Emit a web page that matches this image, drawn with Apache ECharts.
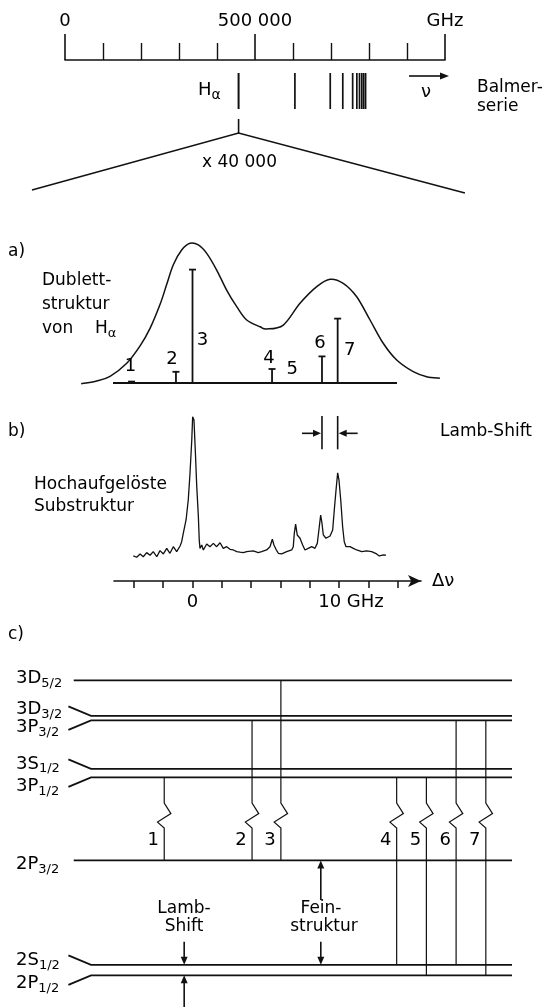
<!DOCTYPE html>
<html>
<head>
<meta charset="utf-8">
<title>Balmer H-alpha Feinstruktur</title>
<script src="https://cdn.jsdelivr.net/npm/echarts@6/dist/echarts.min.js"></script>
<style>
html,body{margin:0;padding:0;background:#fff;}
#chart{width:550px;height:1007px;}
</style>
</head>
<body>
<div id="chart"></div>
<script>
// ================= DATA =================
// top: Balmer series on a 0..1 000 000 GHz scale
const scaleTicksGHz = [0, 500000, 1000000];
const scaleTickLabels = ['0', '500 000', 'GHz'];
const balmerGHz = [456800, 605000, 698000, 731000, 757000, 768000, 775000, 781000, 786000, 791000];
const zoomWindowGHz = [-10.96, 18.6];          // expanded H-alpha window (GHz offset)

// a) Doppler-broadened doublet + fine-structure components
const dopplerGHz = [-7.6, -6.6, -5.63, -4.49, -3.58, -2.90, -2.22, -1.76, -1.31, -0.74, -0.17, 0.40, 0.97, 1.65, 2.33, 3.02, 3.70, 4.61, 5.06, 6.20, 7.34, 8.48, 9.39, 10.29, 11.21, 12.12, 13.02, 13.94, 15.07, 15.99, 16.89];
const dopplerSignal = [-0.5, 1.2, 4.8, 14.1, 26.5, 39.0, 56.0, 70.5, 84.5, 95.0, 99.8, 98.6, 92.6, 80.7, 66.4, 54.5, 45.0, 40.2, 38.6, 41.4, 56.9, 68.8, 74.1, 71.2, 61.6, 45.0, 28.4, 16.4, 8.1, 4.5, 3.4];
const componentLabels = ['1', '2', '3', '4', '5', '6', '7'];
const componentGHz = [-4.16, -1.13, 0.0, 5.43, 6.80, 8.84, 9.91];
const componentIntensity = [1.0, 8, 81, 10, 0.4, 19, 46];
const doubletBaseGHz = [-5.63, 13.96];

// b) high-resolution spectrum
const spectrumGHz = [-4.04, -3.81, -3.58, -3.36, -3.13, -2.90, -2.68, -2.44, -2.22, -1.99, -1.76, -1.54, -1.31, -1.08, -0.85, -0.74, -0.63, -0.44, -0.29, -0.17, -0.05, 0.01, 0.10, 0.19, 0.29, 0.40, 0.46, 0.51, 0.63, 0.74, 0.97, 1.19, 1.42, 1.65, 1.88, 2.10, 2.33, 2.56, 2.79, 3.02, 3.24, 3.47, 3.70, 4.15, 4.49, 4.72, 5.06, 5.29, 5.45, 5.56, 5.70, 5.86, 6.09, 6.43, 6.77, 6.88, 6.95, 7.04, 7.15, 7.34, 7.52, 7.68, 7.90, 8.14, 8.36, 8.52, 8.63, 8.75, 8.84, 8.93, 9.11, 9.39, 9.57, 9.68, 9.80, 9.91, 10.00, 10.12, 10.25, 10.36, 10.48, 10.75, 10.98, 11.21, 11.55, 11.89, 12.23, 12.57, 12.75, 13.05, 13.20];
const spectrumSignal = [15.2, 14.4, 16.4, 14.7, 17.2, 15.6, 17.8, 14.7, 18.4, 16.4, 19.8, 16.8, 20.8, 17.8, 21.2, 23.8, 28.9, 37.0, 49.1, 65.3, 85.5, 99.6, 97.6, 79.4, 57.2, 39.0, 24.8, 19.8, 21.8, 18.8, 22.4, 20.8, 22.8, 20.8, 23.2, 19.8, 20.8, 19.2, 18.8, 17.8, 17.5, 17.2, 17.8, 18.2, 17.2, 17.8, 18.8, 20.8, 25.3, 21.8, 19.2, 16.8, 16.4, 17.8, 18.8, 20.8, 28.9, 34.5, 27.9, 25.9, 21.8, 18.8, 19.8, 20.8, 19.8, 22.8, 30.9, 40.0, 35.0, 27.9, 25.9, 27.3, 30.9, 43.0, 55.2, 65.6, 61.2, 49.1, 32.9, 23.8, 20.8, 20.8, 19.8, 18.8, 17.8, 18.2, 17.8, 16.4, 15.2, 15.8, 15.6];
const deltaTicksGHz = [-4, -2, 0, 2, 4, 6, 8, 10, 12, 14];
const deltaLabelsGHz = [0, 10];
const lambShiftGHz = [8.84, 9.91];

// c) term scheme (schematic energies)
const levelNames = ['3D5/2', '3D3/2', '3P3/2', '3S1/2', '3P1/2', '2P3/2', '2S1/2', '2P1/2'];
const levelEnergy = [98.3, 86.5, 85.0, 68.8, 66.0, 38.3, 3.5, 0];
const transitionLabels = ['1', '2', '3', '4', '5', '6', '7'];
const transitionUpper = ['3P1/2', '3P3/2', '3D5/2', '3P1/2', '3P1/2', '3P3/2', '3P3/2'];
const transitionLower = ['2P3/2', '2P3/2', '2P3/2', '2S1/2', '2P1/2', '2S1/2', '2P1/2'];
const transitionX = [21.6, 41.4, 47.9, 74.0, 80.7, 87.4, 94.1];
const splitArrowX = [26.1, 26.1, 56.9, 56.9];
const splitArrowFrom = [11.2, -10.6, 25.1, 11.2];
const splitArrowTo = ['2S1/2', '2P1/2', '2P3/2', '2S1/2'];

// ================= STYLE HELPERS =================
const FAM = 'DejaVu Sans';
const INK = '#111';
const mctx = document.createElement('canvas').getContext('2d');
function tw(t, s) { mctx.font = s + 'px "' + FAM + '"'; return mctx.measureText(t).width; }
function tstyle(text, x, y, size, align) {
  return { text: text, x: x, y: y, fill: '#000', fontSize: size, fontFamily: FAM,
    align: align || 'left', verticalAlign: 'middle', textAlign: align || 'left', textVerticalAlign: 'middle' };
}
function txt(x, y, text, size, align) {
  return { type: 'text', silent: true, z: 20, style: tstyle(text, x, y, size, align) };
}
function subTxt(x, y, main, sub, size, subSize, dy) {
  return [txt(x, y, main, size), txt(x + tw(main, size), y + dy, sub, subSize)];
}
function arrowEls(x1, y1, x2, y2, head, hw, lw) {
  const dx = x2 - x1, dy = y2 - y1, L = Math.hypot(dx, dy), ux = dx / L, uy = dy / L;
  const bx = x2 - ux * head, by = y2 - uy * head;
  return [
    { type: 'line', shape: { x1: x1, y1: y1, x2: bx + ux, y2: by + uy }, style: { stroke: INK, lineWidth: lw } },
    { type: 'polygon', shape: { points: [[x2, y2], [bx - uy * hw, by + ux * hw], [bx + uy * hw, by - ux * hw]] }, style: { fill: INK } }
  ];
}

// ================= RENDERERS =================
function renderBalmer(params, api) {
  const p = api.coord([api.value(0), 0]);
  const lw = params.dataIndex === 0 ? 2.0 : 1.7;
  return { type: 'line', shape: { x1: p[0], y1: p[1] + 13, x2: p[0], y2: p[1] + 49 }, style: { stroke: INK, lineWidth: lw } };
}
// smooth Catmull-Rom curve through the Doppler profile points (points mapped through the axes)
function renderDoppler(params, api) {
  const P = dopplerGHz.map((g, i) => api.coord([g, dopplerSignal[i]]));
  let d = 'M' + P[0][0] + ' ' + P[0][1];
  for (let i = 0; i < P.length - 1; i++) {
    const p0 = P[Math.max(0, i - 1)], p1 = P[i], p2 = P[i + 1], p3 = P[Math.min(P.length - 1, i + 2)];
    const c1 = [p1[0] + (p2[0] - p0[0]) / 6, p1[1] + (p2[1] - p0[1]) / 6];
    const c2 = [p2[0] - (p3[0] - p1[0]) / 6, p2[1] - (p3[1] - p1[1]) / 6];
    d += ' C' + c1[0] + ' ' + c1[1] + ' ' + c2[0] + ' ' + c2[1] + ' ' + p2[0] + ' ' + p2[1];
  }
  return { type: 'path', shape: { pathData: d }, style: { stroke: INK, lineWidth: 1.5, fill: 'none' } };
}
const stickLabelPos = [[-1, -15, 'top'], [-4, -12, 'top'], [10, -43, 'base'], [-3, -11, 'top'], [0, -13, 'top'], [-2, -13, 'top'], [12, -33, 'base']];
function renderStick(params, api) {
  const i = params.dataIndex;
  const b = api.coord([api.value(0), 0]);
  const t = api.coord([api.value(0), api.value(1)]);
  const ch = [];
  if (api.value(1) > 0.8) {
    ch.push({ type: 'line', shape: { x1: b[0], y1: b[1], x2: t[0], y2: t[1] }, style: { stroke: INK, lineWidth: 1.8 } });
    ch.push({ type: 'line', shape: { x1: t[0] - 3.5, y1: t[1], x2: t[0] + 3.5, y2: t[1] }, style: { stroke: INK, lineWidth: 1.8 } });
  }
  const lp = stickLabelPos[i];
  const ly = lp[2] === 'top' ? t[1] + lp[1] : b[1] + lp[1];
  ch.push({ type: 'text', style: tstyle(componentLabels[i], t[0] + lp[0], ly, 18, 'center') });
  return { type: 'group', children: ch };
}
function renderLamb(params, api) {
  const g = api.value(0), i = params.dataIndex;
  const top = api.coord([g, 100]), bot = api.coord([g, 79.8]), mid = api.coord([g, 89.5]);
  const dir = i === 0 ? -1 : 1;
  return { type: 'group', children: [
    { type: 'line', shape: { x1: top[0], y1: top[1], x2: bot[0], y2: bot[1] }, style: { stroke: INK, lineWidth: 1.6 } }
  ].concat(arrowEls(mid[0] + dir * 20, mid[1], mid[0] + (dir * 1), mid[1], 8, 3.5, 1.6)) };
}
const levelStubDir = [0, 1, -1, 1, -1, 0, 1, -1];
const levelLabelDy = [-2, -6, 7, -5, 9, 4, -4, 8];
function renderLevel(params, api) {
  const i = params.dataIndex, e = api.value(0);
  const a = api.coord([0, e]), s = api.coord([5.1, e]), z = api.coord([100, e]), st = api.coord([1.2, e]);
  const pts = levelStubDir[i] === 0 ? [[st[0], st[1]], [z[0], z[1]]] :
    [[a[0], a[1] - levelStubDir[i] * 9.5], [s[0], s[1]], [z[0], z[1]]];
  const name = levelNames[i];
  const main = name.slice(0, 2), sub = name.slice(2);
  const lx = 16, ly = a[1] + levelLabelDy[i];
  return { type: 'group', children: [
    { type: 'polyline', shape: { points: pts }, style: { stroke: INK, lineWidth: 1.8, fill: 'none' } },
    { type: 'text', style: tstyle(main, lx, ly, 18, 'left') },
    { type: 'text', style: tstyle(sub, lx + tw(main, 18), ly + 5, 13, 'left') }
  ] };
}
const ZIG_E = 57.4, LABEL_E = 45.1;
function renderTransition(params, api) {
  const i = params.dataIndex, x = api.value(0);
  const eU = levelEnergy[levelNames.indexOf(transitionUpper[i])];
  const eL = levelEnergy[levelNames.indexOf(transitionLower[i])];
  const pT = api.coord([x, eU]), pB = api.coord([x, eL]);
  const zy = api.coord([x, ZIG_E])[1], ly = api.coord([x, LABEL_E])[1];
  const X = pT[0];
  const pts = [[X, pT[1]], [X, zy], [X + 6.7, zy + 10.5], [X - 6.7, zy + 19], [X, zy + 25], [X, pB[1]]];
  return { type: 'group', children: [
    { type: 'polyline', shape: { points: pts }, style: { stroke: INK, lineWidth: 1.2, fill: 'none' } },
    { type: 'text', style: tstyle(transitionLabels[i], X - 11, ly, 18, 'center') }
  ] };
}
function renderSplitArrow(params, api) {
  const i = params.dataIndex, x = api.value(0);
  const from = api.coord([x, api.value(1)]);
  const to = api.coord([x, levelEnergy[levelNames.indexOf(splitArrowTo[i])]]);
  return { type: 'group', children: arrowEls(from[0], from[1], to[0], to[1], 8, 3.5, 1.6) };
}

// ================= OPTION =================
const hidden = (gi, min, max, inv) => ({ gridIndex: gi, type: 'value', min: min, max: max, inverse: !!inv, show: false });
const G = [];
G.push(...subTxt(198, 90, 'H', 'α', 18, 14, 5));
G.push(txt(239.5, 163, 'x 40 000', 17, 'center'));
G.push(...arrowEls(409, 76, 449, 76, 9, 3.5, 1.6));
G.push(txt(426, 92, 'ν', 18, 'center'));
G.push(txt(477, 88, 'Balmer-', 17));
G.push(txt(477, 107, 'serie', 17));
G.push(txt(8, 252, 'a)', 17));
G.push(txt(42, 281, 'Dublett-', 17));
G.push(txt(42, 305, 'struktur', 17));
G.push(txt(42, 329, 'von', 17));
G.push(...subTxt(95, 329, 'H', 'α', 17, 13, 5));
G.push(txt(8, 432, 'b)', 17));
G.push(txt(440, 432, 'Lamb-Shift', 17));
G.push(txt(34, 485, 'Hochaufgelöste', 17));
G.push(txt(34, 507, 'Substruktur', 17));
G.push(txt(432, 581, 'Δν', 18));
G.push(txt(8, 635, 'c)', 17));
G.push(txt(184, 909, 'Lamb-', 17, 'center'));
G.push(txt(184, 927, 'Shift', 17, 'center'));
G.push(txt(321, 909, 'Fein-', 17, 'center'));
G.push(txt(324, 927, 'struktur', 17, 'center'));

const option = {
  animation: false,
  backgroundColor: '#fff',
  grid: [
    { left: 65, top: 60, width: 380, height: 80 },
    { left: 114, top: 243, width: 307, height: 140 },
    { left: 114, top: 416, width: 307, height: 165 },
    { left: 68.4, top: 675.3, width: 443.6, height: 300 }
  ],
  xAxis: [
    { gridIndex: 0, type: 'value', min: 0, max: 1000000, interval: 500000, position: 'top',
      axisLine: { show: true, lineStyle: { color: INK, width: 1.6 } },
      axisTick: { show: true, inside: false, length: 26, lineStyle: { color: INK, width: 1.6 } },
      minorTick: { show: true, splitNumber: 5, length: 17, lineStyle: { color: INK, width: 1.4 } },
      splitLine: { show: false }, minorSplitLine: { show: false },
      axisLabel: { show: true, margin: 30, color: '#000', fontSize: 18, fontFamily: FAM, showMinLabel: true, showMaxLabel: true,
        formatter: v => { const k = scaleTicksGHz.indexOf(v); return k >= 0 ? scaleTickLabels[k] : ''; } } },
    hidden(1, -5.36, 15.6),
    { gridIndex: 2, type: 'value', min: -5.36, max: 15.6, position: 'bottom',
      axisLine: { show: true, symbol: ['none', 'arrow'], symbolSize: [9, 13], lineStyle: { color: INK, width: 1.6 } },
      axisTick: { show: true, inside: false, length: 7, customValues: deltaTicksGHz, lineStyle: { color: INK, width: 1.5 } },
      splitLine: { show: false },
      axisLabel: { show: true, customValues: deltaLabelsGHz, margin: 12, color: '#000', fontSize: 18, fontFamily: FAM,
        formatter: v => v === 10 ? '{g|10 GHz}' : String(v),
        rich: { g: { fontSize: 18, fontFamily: FAM, color: '#000', padding: [0, 0, 0, 24] } } } },
    hidden(3, 0, 100)
  ],
  yAxis: [hidden(0, 0, 80, true), hidden(1, 0, 100), hidden(2, 0, 100), hidden(3, 0, 100)],
  series: [
    { type: 'custom', xAxisIndex: 0, yAxisIndex: 0, renderItem: renderBalmer, data: balmerGHz.map(v => [v, 0]), silent: true },
    { type: 'custom', xAxisIndex: 1, yAxisIndex: 1, renderItem: renderDoppler, silent: true, data: [[dopplerGHz[0], dopplerSignal[0]]] },
    { type: 'line', xAxisIndex: 1, yAxisIndex: 1, clip: false, showSymbol: false, silent: true,
      lineStyle: { color: INK, width: 2 }, data: doubletBaseGHz.map(g => [g, 0]) },
    { type: 'custom', xAxisIndex: 1, yAxisIndex: 1, renderItem: renderStick, silent: true,
      data: componentGHz.map((g, i) => [g, componentIntensity[i]]) },
    { type: 'line', xAxisIndex: 2, yAxisIndex: 2, clip: false, showSymbol: false, silent: true,
      lineStyle: { color: INK, width: 1.3 }, data: spectrumGHz.map((g, i) => [g, spectrumSignal[i]]) },
    { type: 'custom', xAxisIndex: 2, yAxisIndex: 2, renderItem: renderLamb, silent: true, data: lambShiftGHz.map(g => [g, 0]) },
    { type: 'custom', xAxisIndex: 3, yAxisIndex: 3, renderItem: renderLevel, silent: true, data: levelEnergy.map(e => [e]) ,
      encode: { y: 0 } },
    { type: 'custom', xAxisIndex: 3, yAxisIndex: 3, renderItem: renderTransition, silent: true, data: transitionX.map(x => [x, 0]) },
    { type: 'custom', xAxisIndex: 3, yAxisIndex: 3, renderItem: renderSplitArrow, silent: true,
      data: splitArrowX.map((x, i) => [x, splitArrowFrom[i]]) }
  ],
  graphic: G
};

const chart = echarts.init(document.getElementById('chart'), null, { renderer: 'canvas', width: 550, height: 1007 });
chart.setOption(option);

// zoom triangle linking H-alpha to the expanded window of panel a)
const apex = chart.convertToPixel({ xAxisIndex: 0, yAxisIndex: 0 }, [balmerGHz[0], 0]);
const wl = chart.convertToPixel({ xAxisIndex: 1, yAxisIndex: 1 }, [zoomWindowGHz[0], 0]);
const wr = chart.convertToPixel({ xAxisIndex: 1, yAxisIndex: 1 }, [zoomWindowGHz[1], 0]);
G.push({ type: 'line', shape: { x1: apex[0], y1: apex[1] + 59, x2: apex[0], y2: apex[1] + 73 }, style: { stroke: INK, lineWidth: 1.6 } });
G.push({ type: 'polyline', shape: { points: [[wl[0], 190], [apex[0], apex[1] + 73], [wr[0], 193]] }, style: { stroke: INK, lineWidth: 1.5, fill: 'none' } });
chart.setOption({ graphic: G });
</script>
</body>
</html>
